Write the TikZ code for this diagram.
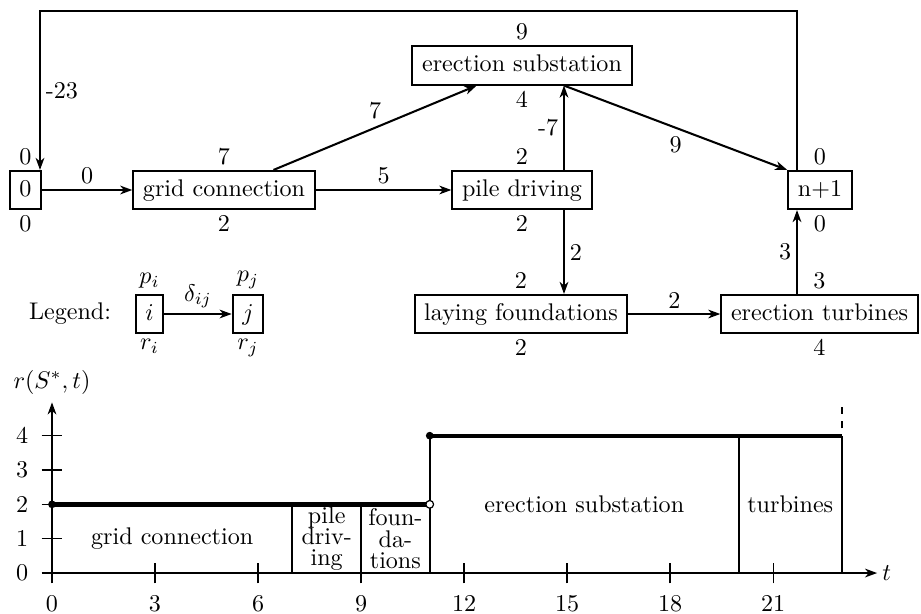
\documentclass[tikz,border=0pt]{standalone}
\usetikzlibrary{arrows.meta,calc}
\begin{document}
\begin{tikzpicture}[x=0.415pt,y=-0.415pt,
  box/.style={draw, line width=0.85pt, text height=7pt, text depth=2pt, inner xsep=4pt, inner ysep=3.4pt},
  arr/.style={line width=0.85pt, -{Stealth[length=5pt,width=3.6pt,inset=1.5pt]}},
  lbl/.style={inner sep=2pt},
  every label/.style={inner sep=2pt},
  thinline/.style={line width=0.5pt},
  edgeline/.style={line width=0.85pt},
  profile/.style={line width=1.8pt}]
\useasboundingbox (0,0) rectangle (921,613);
% network
\node[box, label={above:0}, label={below:0}] (n0) at (25.5,190) {0};
\node[box, label={above:7}, label={below:2}] (grid) at (224,190) {grid connection};
\node[box, label={above:2}, label={below:2}] (pile) at (522,190) {pile driving};
\node[box, label={above:9}, label={below:4}] (sub) at (522,65.5) {erection substation};
\node[box, label={above:0}, label={below:0}] (n1) at (820,190) {n+1};
\node[box, label={above:2}, label={below:2}] (lay) at (521,314) {laying foundations};
\node[box, label={above:3}, label={below:4}] (turb) at (819.5,314) {erection turbines};
% legend
\node (leg) at (70,314) {Legend:};
\node[box, label={above:$p_i$}, label={below:$r_i$}] (li) at (149.5,314) {$i$};
\node[box, label={above:$p_j$}, label={below:$r_j$}] (lj) at (248,314) {$j$};
\draw[arr] (li) -- node[above,lbl]{$\delta_{ij}$} (lj);
% connectors
\coordinate (px) at (564,0);
\coordinate (qx) at (797,0);
\coordinate (tl) at (40,11);
\draw[arr] (n0) -- node[above,lbl]{0} (grid);
\draw[arr] (grid) -- node[above,lbl]{5} (pile);
\draw[arr] ($(grid.north)!0.54!(grid.north east)$) -- node[above,inner sep=3pt]{7} ($(sub.south)!0.41!(sub.south west)$);
\draw[arr] (pile.north -| px) -- node[left,lbl]{-7} (sub.south -| px);
\draw[arr] (sub.south -| px) -- node[below,inner sep=3pt]{9} (n1.north west);
\draw[arr] (pile.south -| px) -- node[right,lbl]{2} (lay.north -| px);
\draw[arr] (lay) -- node[above,lbl]{2} (turb);
\draw[arr] (turb.north -| qx) -- node[left,lbl]{3} (n1.south -| qx);
\draw[arr] (n1.north -| qx) |- (tl) -- node[right,lbl]{-23} (tl |- n0.north);
% chart
\begin{scope}[shift={(21.58pt,-237.8pt)}, x=14.25pt, y=14.25pt]
  \draw[edgeline, -{Stealth[length=5pt,width=3.6pt,inset=1.5pt]}] (0,0) -- (0,4.97);
  \draw[edgeline, -{Stealth[length=5pt,width=3.6pt,inset=1.5pt]}] (0,0) -- (24.03,0);
  \node (ylab) at (0,5.55) {$r(S^{*},t)$};
  \node[anchor=west, inner sep=1pt] (tlab) at (24.1,0) {$t$};
  \foreach \i in {0,3,...,21} {
    \draw[thinline] (\i,-0.3) -- (\i,0.3);
    \node (xt\i) at (\i,-0.9) {\i};
  }
  \foreach \i in {0,...,4} {
    \draw[thinline] (-0.3,\i) -- (0.3,\i);
    \node (yt\i) at (-0.87,\i) {\i};
  }
  % activity boxes
  \draw[edgeline] (7,0) -- (7,2);
  \draw[edgeline] (9,0) -- (9,2);
  \draw[edgeline] (11,0) -- (11,4);
  \draw[edgeline] (20,0) -- (20,4);
  \draw[edgeline] (23,0) -- (23,4);
  \draw[edgeline, dashed] (23,0) -- (23,4.98);
  % profile
  \draw[profile] (0,2) -- (11,2);
  \draw[profile] (11,4) -- (23,4);
  \fill (0,2) circle (1.6pt);
  \fill (11,4) circle (1.6pt);
  \draw[line width=0.5pt, fill=white] (11,2) circle (1.6pt);
  % labels
  \node (cg) at (3.5,1) {grid connection};
  \node[align=center] (cp) at (8,1) {pile\\[-3.2pt]driv-\\[-3.2pt]ing};
  \node[align=center] (cf) at (10,1) {foun-\\[-3.2pt]da-\\[-3.2pt]tions};
  \node (cs) at (15.5,2) {erection substation};
  \node (ct) at (21.5,2) {turbines};
\end{scope}
\end{tikzpicture}
\end{document}
